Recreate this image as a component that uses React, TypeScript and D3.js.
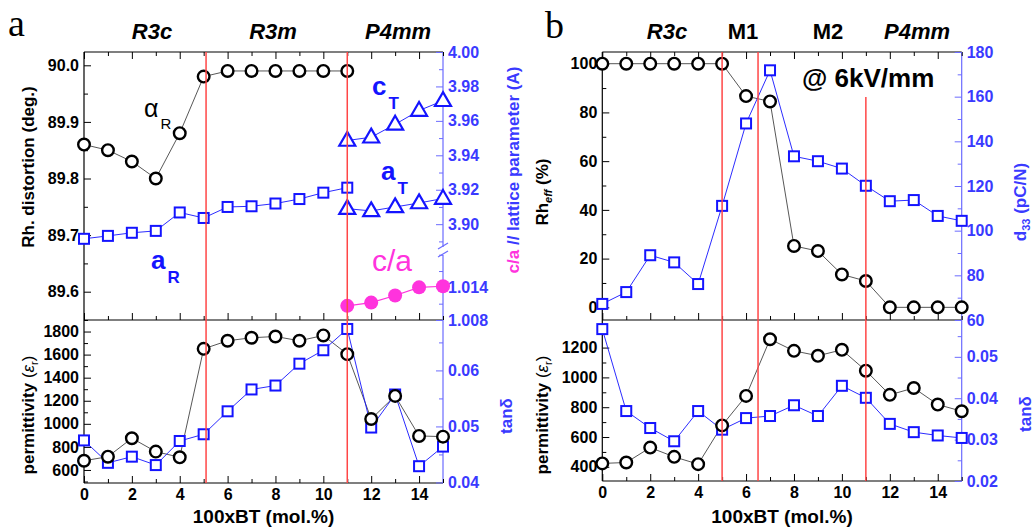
import React, { useEffect, useRef } from "react"
import * as d3 from "d3"

// x values (100xBT, mol.%)
const btMol = [0, 1, 2, 3, 4, 5, 6, 7, 8, 9, 10, 11, 12, 13, 14, 15]
const rhombMol = [0, 1, 2, 3, 4, 5, 6, 7, 8, 9, 10, 11]
const tetraMol = [11, 12, 13, 14, 15]

// panel a, upper
const alphaR = [89.86, 89.85, 89.83, 89.8, 89.88, 89.98, 89.99, 89.99, 89.99, 89.99, 89.99, 89.99]
const aR = [3.8915, 3.8932, 3.895, 3.8961, 3.9068, 3.9036, 3.91, 3.9104, 3.912, 3.9146, 3.9183, 3.9212]
const cT = [3.9486, 3.9505, 3.958, 3.966, 3.9717]
const aT = [3.909, 3.9077, 3.91, 3.9123, 3.9149]
const cOverA = [1.0106, 1.0112, 1.0125, 1.014, 1.0142]

// panel a, lower
const permA = [680, 715, 875, 759, 710, 1650, 1720, 1746, 1757, 1720, 1766, 1604, 1042, 1242, 895, 889]
const tanA = [0.0475, 0.0435, 0.0446, 0.0431, 0.0474, 0.0486, 0.0527, 0.0566, 0.0573, 0.0612, 0.0636, 0.0674, 0.0498, 0.0557, 0.0429, 0.0464]

// panel b, upper
const rhEff = [100, 100, 100, 100, 100, 100, 86.7, 84.5, 25.2, 23.1, 13.5, 10.8, 0, 0, 0, 0]
const d33 = [67.2, 72.5, 89, 85.8, 76.1, 111.1, 148, 171.8, 133.3, 131.1, 127.8, 120.1, 113.2, 113.7, 106.6, 104.4]

// panel b, lower
const permB = [423, 429, 529, 467, 418, 678, 876, 1256, 1178, 1145, 1185, 1045, 883, 929, 818, 773]
const tanB = [0.0567, 0.0369, 0.0328, 0.0296, 0.0369, 0.0324, 0.0352, 0.0357, 0.0383, 0.0357, 0.043, 0.0401, 0.0338, 0.0318, 0.031, 0.0304]

// phase boundaries and labels
const boundsA = [5.1, 11]
const boundsB = [5, 6.5, 11]
const phasesA = ["R3c", "R3m", "P4mm"]
const phasesB = ["R3c", "M1", "M2", "P4mm"]

// ticks
const xMajor = [0, 2, 4, 6, 8, 10, 12, 14]
const xMinor = [1, 3, 5, 7, 9, 11, 13, 15]
const alphaTicks = [89.6, 89.7, 89.8, 89.9, 90.0]
const latTicks = [3.9, 3.92, 3.94, 3.96, 3.98, 4.0]
const caTicks = [1.008, 1.014]
const permATicks = [600, 800, 1000, 1200, 1400, 1600, 1800]
const tanATicks = [0.04, 0.05, 0.06]
const rhTicks = [0, 20, 40, 60, 80, 100]
const d33Ticks = [60, 80, 100, 120, 140, 160, 180]
const permBTicks = [400, 600, 800, 1000, 1200]
const tanBTicks = [0.02, 0.03, 0.04, 0.05]

const FONT = "'Liberation Sans', Arial, sans-serif"
const BLUE = "#1414ff"
const BLUE_TXT = "#3a3aff"
const BLUE_AX = "#6b6bff"
const MAGENTA = "#ff33dd"
const RED = "#ff4646"

function yAxis(g, scale, x, side, major, minor, fmt, textColor, lineColor) {
  const ax = side === "left" ? d3.axisLeft(scale) : d3.axisRight(scale)
  const a = g.append("g").attr("transform", `translate(${x},0)`)
  a.call(ax.tickValues(major).tickSize(-7).tickSizeOuter(0).tickPadding(5).tickFormat(fmt))
  a.attr("color", lineColor).attr("font-size", 16).attr("font-family", FONT).attr("font-weight", "bold")
  a.selectAll("text").attr("fill", textColor)
  a.select(".domain").remove()
  const [lo, hi] = scale.domain()
  const m = g.append("g").attr("transform", `translate(${x},0)`)
  m.call(ax.tickValues(minor.filter(v => v >= lo && v <= hi)).tickSize(-4).tickFormat(() => ""))
  m.attr("color", lineColor)
  m.select(".domain").remove()
}

function xAxis(g, scale, y, orient, labels) {
  const ax = orient === "top" ? d3.axisTop(scale) : d3.axisBottom(scale)
  const a = g.append("g").attr("transform", `translate(0,${y})`)
  a.call(ax.tickValues(xMajor).tickSize(-7).tickSizeOuter(0).tickPadding(6)
    .tickFormat(labels ? d3.format("d") : () => ""))
  a.attr("color", "#000").attr("font-size", 16).attr("font-family", FONT).attr("font-weight", "bold")
  a.select(".domain").remove()
  const m = g.append("g").attr("transform", `translate(0,${y})`)
  m.call(ax.tickValues(xMinor).tickSize(-4).tickFormat(() => ""))
  m.attr("color", "#000")
  m.select(".domain").remove()
}

function vline(g, x, y0, y1, color, w = 1.2) {
  g.append("line").attr("x1", x).attr("x2", x).attr("y1", y0).attr("y2", y1)
    .attr("stroke", color).attr("stroke-width", w)
}

function hline(g, y, x0, x1, color, w = 1.2) {
  g.append("line").attr("x1", x0).attr("x2", x1).attr("y1", y).attr("y2", y)
    .attr("stroke", color).attr("stroke-width", w)
}

function connect(g, xs, ys, x, y, color, w = 0.9) {
  const line = d3.line().x((d, i) => x(xs[i])).y(d => y(d))
  g.append("path").datum(ys).attr("d", line).attr("fill", "none")
    .attr("stroke", color).attr("stroke-width", w)
}

function markers(g, xs, ys, x, y, shape, color) {
  const s = g.append("g")
  ys.forEach((v, i) => {
    const cx = x(xs[i])
    const cy = y(v)
    if (shape === "circle") {
      s.append("circle").attr("cx", cx).attr("cy", cy).attr("r", 5.8)
        .attr("fill", "#fff").attr("stroke", color).attr("stroke-width", 2.4)
    } else if (shape === "dot") {
      s.append("circle").attr("cx", cx).attr("cy", cy).attr("r", 7)
        .attr("fill", color).attr("stroke", "none")
    } else if (shape === "square") {
      s.append("rect").attr("x", cx - 5).attr("y", cy - 5).attr("width", 10).attr("height", 10)
        .attr("fill", "#fff").attr("stroke", color).attr("stroke-width", 2)
    } else {
      const side = 16
      const h = side * Math.sqrt(3) / 2
      const p = d3.path()
      p.moveTo(cx, cy - h * 0.62)
      p.lineTo(cx + side / 2, cy + h * 0.38)
      p.lineTo(cx - side / 2, cy + h * 0.38)
      p.closePath()
      s.append("path").attr("d", p.toString()).attr("fill", "#fff")
        .attr("stroke", color).attr("stroke-width", 2.2).attr("stroke-linejoin", "miter")
    }
  })
}

function text(g, x, y, str, size, opts: any = {}) {
  return g.append("text").attr("x", x).attr("y", y).text(str)
    .attr("font-family", opts.family || FONT).attr("font-size", size)
    .attr("font-weight", opts.weight || "bold").attr("font-style", opts.style || "normal")
    .attr("fill", opts.fill || "#000").attr("text-anchor", opts.anchor || "start")
}

function subText(g, x, y, main, sub, size, subSize, fill, weight = "bold", anchor = "start") {
  const t = g.append("text").attr("x", x).attr("y", y).attr("font-family", FONT)
    .attr("font-weight", weight).attr("fill", fill).attr("text-anchor", anchor)
  t.append("tspan").attr("font-size", size).text(main)
  t.append("tspan").attr("font-size", subSize).attr("dy", subSize * 0.8).attr("dx", 2).text(sub)
  return t
}

function vTitle(g, x, y) {
  return g.append("text").attr("transform", `translate(${x},${y}) rotate(-90)`)
    .attr("text-anchor", "middle").attr("font-family", FONT).attr("font-weight", "bold")
    .attr("font-size", 17)
}

function permTitle(g, x, y) {
  const t = vTitle(g, x, y)
  t.append("tspan").text("permittivity ")
  t.append("tspan").attr("font-weight", "normal").text("(")
  t.append("tspan").attr("font-weight", "normal").attr("font-style", "italic").text("ε")
  t.append("tspan").attr("font-weight", "normal").attr("font-size", 11).attr("dy", 4).text("r")
  t.append("tspan").attr("font-weight", "normal").attr("dy", -4).text(")")
}

function drawPanelA(svg) {
  const g = svg.append("g")
  const L = 84, R = 443, T = 52, MID = 320, B = 483
  const x = d3.scaleLinear().domain([0, 15]).range([L, R])
  const yAlpha = d3.scaleLinear().domain([89.55, 90.0235]).range([MID, T])
  const yLat = d3.scaleLinear().domain([3.885, 4.0]).range([250, T])
  const yCA = d3.scaleLinear().domain([1.008, 1.0205]).range([MID, 252])
  const yPerm = d3.scaleLinear().domain([487, 1900]).range([B, MID])
  const yTan = d3.scaleLinear().domain([0.0399, 0.069]).range([B, MID])

  // frame
  hline(g, T, L, R, "#000")
  hline(g, MID, L, R, "#000")
  hline(g, B, L, R, "#000")
  vline(g, L, T, B, "#000")
  vline(g, R, T, 247, BLUE_AX)
  vline(g, R, 255, B, BLUE_AX)
  g.append("line").attr("x1", R - 5).attr("x2", R + 5).attr("y1", 249).attr("y2", 243).attr("stroke", BLUE_AX).attr("stroke-width", 1.2)
  g.append("line").attr("x1", R - 5).attr("x2", R + 5).attr("y1", 257).attr("y2", 251).attr("stroke", BLUE_AX).attr("stroke-width", 1.2)

  xAxis(g, x, T, "top", false)
  xAxis(g, x, MID, "bottom", false)
  xAxis(g, x, B, "bottom", true)

  yAxis(g, yAlpha, L, "left", alphaTicks, [89.55, 89.65, 89.75, 89.85, 89.95], d3.format(".1f"), "#000", "#000")
  yAxis(g, yLat, R, "right", latTicks, [3.89, 3.91, 3.93, 3.95, 3.97, 3.99], d3.format(".2f"), BLUE_TXT, BLUE_AX)
  yAxis(g, yCA, R, "right", caTicks, [1.011, 1.017, 1.02], d3.format(".3f"), BLUE_TXT, BLUE_AX)
  yAxis(g, yPerm, L, "left", permATicks, [500, 700, 900, 1100, 1300, 1500, 1700, 1900], d3.format("d"), "#000", "#000")
  yAxis(g, yTan, R, "right", tanATicks, [0.045, 0.055, 0.065], d3.format(".2f"), BLUE_TXT, BLUE_AX)

  // series
  connect(g, rhombMol, alphaR, x, yAlpha, "#444")
  connect(g, rhombMol, aR, x, yLat, BLUE)
  connect(g, tetraMol, cT, x, yLat, BLUE)
  connect(g, tetraMol, aT, x, yLat, BLUE)
  connect(g, tetraMol, cOverA, x, yCA, MAGENTA, 1.2)
  connect(g, btMol, permA, x, yPerm, "#444")
  connect(g, btMol, tanA, x, yTan, BLUE)

  markers(g, rhombMol, alphaR, x, yAlpha, "circle", "#000")
  markers(g, rhombMol, aR, x, yLat, "square", BLUE)
  markers(g, tetraMol, cT, x, yLat, "triangle", BLUE)
  markers(g, tetraMol, aT, x, yLat, "triangle", BLUE)
  markers(g, tetraMol, cOverA, x, yCA, "dot", MAGENTA)
  markers(g, btMol, tanA, x, yTan, "square", BLUE)
  markers(g, btMol, permA, x, yPerm, "circle", "#000")

  boundsA.forEach(b => vline(g, x(b), T, B, RED, 1.5))

  // labels
  text(g, 8, 36, "a", 38, { family: "'Liberation Serif', serif", weight: "normal" })
  const phaseX = [152, 273, 398]
  phasesA.forEach((p, i) => text(g, phaseX[i], 39, p, 22, { style: "italic", anchor: "middle" }))

  subText(g, 144, 117, "α", "R", 25, 15, "#000", "normal")
  subText(g, 372, 95, "c", "T", 26, 17, BLUE)
  subText(g, 381, 180, "a", "T", 26, 17, BLUE)
  subText(g, 151, 269, "a", "R", 26, 17, BLUE)
  text(g, 372, 271, "c/a", 30, { weight: "normal", fill: MAGENTA })

  vTitle(g, 34, 167).text("Rh. distortion (deg.)")
  permTitle(g, 34, 415)
  const rt = vTitle(g, 519, 170)
  rt.append("tspan").attr("fill", MAGENTA).text("c/a")
  rt.append("tspan").attr("fill", BLUE_TXT).text(" // lattice parameter (A)")
  vTitle(g, 512, 416).attr("fill", BLUE_TXT).text("tanδ")
  text(g, (L + R) / 2, 523, "100xBT (mol.%)", 19, { anchor: "middle" })
}

function drawPanelB(svg) {
  const g = svg.append("g")
  const L = 602.3, R = 961.7, T = 52, MID = 320, B = 481
  const x = d3.scaleLinear().domain([0, 15]).range([L, R])
  const yRh = d3.scaleLinear().domain([-5.2, 104.8]).range([MID, T])
  const yD = d3.scaleLinear().domain([60, 180]).range([MID, T])
  const yPerm = d3.scaleLinear().domain([305, 1385]).range([B, MID])
  const yTan = d3.scaleLinear().domain([0.02, 0.0589]).range([B, MID])

  hline(g, T, L, R, "#000")
  hline(g, MID, L, R, "#000")
  hline(g, B, L, R, "#000")
  vline(g, L, T, B, "#000")
  vline(g, R, T, B, BLUE_AX)

  xAxis(g, x, T, "top", false)
  xAxis(g, x, MID, "bottom", false)
  xAxis(g, x, B, "bottom", true)

  yAxis(g, yRh, L, "left", rhTicks, [10, 30, 50, 70, 90], d3.format("d"), "#000", "#000")
  yAxis(g, yD, R, "right", d33Ticks, [70, 90, 110, 130, 150, 170], d3.format("d"), BLUE_TXT, BLUE_AX)
  yAxis(g, yPerm, L, "left", permBTicks, [500, 700, 900, 1100, 1300], d3.format("d"), "#000", "#000")
  yAxis(g, yTan, R, "right", tanBTicks, [0.025, 0.035, 0.045, 0.055], d3.format(".2f"), BLUE_TXT, BLUE_AX)

  connect(g, btMol, rhEff, x, yRh, "#444")
  connect(g, btMol, d33, x, yD, BLUE)
  connect(g, btMol, permB, x, yPerm, "#444")
  connect(g, btMol, tanB, x, yTan, BLUE)

  markers(g, btMol, d33, x, yD, "square", BLUE)
  markers(g, btMol, rhEff, x, yRh, "circle", "#000")
  markers(g, btMol, tanB, x, yTan, "square", BLUE)
  markers(g, btMol, permB, x, yPerm, "circle", "#000")

  boundsB.forEach((b, i) => vline(g, x(b), i === 2 ? 97 : T, B, RED, 1.5))

  text(g, 545, 38, "b", 38, { family: "'Liberation Serif', serif", weight: "normal" })
  const phaseX = [667, 743, 828, 917]
  phasesB.forEach((p, i) => text(g, phaseX[i], 39, p, 22, { style: i === 0 || i === 3 ? "italic" : "normal", anchor: "middle" }))
  text(g, 802, 87, "@ 6kV/mm", 26)

  const rt = vTitle(g, 548, 192)
  rt.append("tspan").text("Rh")
  rt.append("tspan").attr("font-size", 11).attr("font-style", "italic").attr("dy", 4).text("eff")
  rt.append("tspan").attr("dy", -4).text(" (%)")
  permTitle(g, 548, 415)
  const dt = vTitle(g, 1026, 202).attr("fill", BLUE_TXT)
  dt.append("tspan").text("d")
  dt.append("tspan").attr("font-size", 11).attr("dy", 4).text("33")
  dt.append("tspan").attr("dy", -4).text(" (pC/N)")
  vTitle(g, 1031, 414).attr("fill", BLUE_TXT).text("tanδ")
  text(g, (L + R) / 2, 523, "100xBT (mol.%)", 19, { anchor: "middle" })
}

export default function App() {
  const ref = useRef<SVGSVGElement>(null)

  useEffect(() => {
    const svg = d3.select(ref.current)
    svg.selectAll("*").remove()
    drawPanelA(svg)
    drawPanelB(svg)
  }, [])

  return (
    <svg
      ref={ref}
      width={1035}
      height={531}
      style={{ position: "absolute", left: 0, top: 0, background: "#fff" }}
    />
  )
}
